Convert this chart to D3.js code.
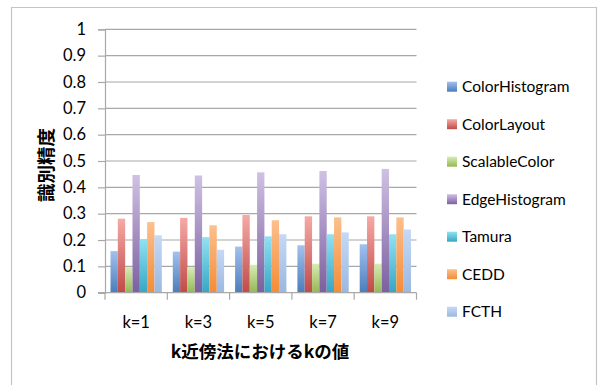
<!DOCTYPE html>
<html>
<head>
<meta charset="utf-8">
<script src="https://cdn.jsdelivr.net/npm/d3@7"></script>
<style>
  html, body { margin: 0; padding: 0; background: #fff; }
  svg { display: block; }
  text { font-family: Lato, "Open Sans", sans-serif; fill: #000; }
  .cjk { font-family: "Noto Sans CJK JP", sans-serif; font-weight: bold; }
</style>
</head>
<body>
<script>
// k values on the category axis
const categories = ["k=1", "k=3", "k=5", "k=7", "k=9"];
// descriptor names (legend order)
const seriesNames = ["ColorHistogram", "ColorLayout", "ScalableColor", "EdgeHistogram", "Tamura", "CEDD", "FCTH"];
// recognition accuracy per descriptor, one value per k
const colorHistogram = [0.158, 0.156, 0.175, 0.180, 0.184];
const colorLayout    = [0.281, 0.284, 0.295, 0.290, 0.290];
const scalableColor  = [0.097, 0.097, 0.106, 0.110, 0.110];
const edgeHistogram  = [0.447, 0.445, 0.457, 0.462, 0.470];
const tamura         = [0.204, 0.211, 0.214, 0.222, 0.222];
const cedd           = [0.268, 0.256, 0.275, 0.286, 0.286];
const fcth           = [0.218, 0.163, 0.222, 0.229, 0.240];
const yTicks = [0, 0.1, 0.2, 0.3, 0.4, 0.5, 0.6, 0.7, 0.8, 0.9, 1];
const yTitle = "識別精度";
const xTitle = "k近傍法におけるkの値";

const seriesValues = [colorHistogram, colorLayout, scalableColor, edgeHistogram, tamura, cedd, fcth];
// [light top, base bottom]
const seriesColors = [
  ["#a3c1ee", "#4a7dbb"],
  ["#f6aaa6", "#bf4b48"],
  ["#d6ecb4", "#95b754"],
  ["#cfc1e4", "#7c5f9f"],
  ["#92e1f2", "#36a6c4"],
  ["#fcc08e", "#f48c36"],
  ["#c6d9f6", "#9ab8e0"]
];

const W = 598, H = 385;
const svg = d3.select("body").append("svg").attr("width", W).attr("height", H);

// chart frame
svg.append("path")
  .attr("d", `M11.5,${H} V7.5 H596.5 V${H}`)
  .attr("fill", "none").attr("stroke", "#c4c4c4").attr("stroke-width", 1.2);

const plot = { left: 105, right: 416.5, top: 29.3, bottom: 292.7 };

const x = d3.scaleBand().domain(categories).range([plot.left, plot.right]).paddingInner(0).paddingOuter(0);
const xs = d3.scaleBand().domain(seriesNames).range([0, x.bandwidth()]).paddingInner(0).paddingOuter(0.75);
const y = d3.scaleLinear().domain([0, 1]).range([plot.bottom, plot.top]);

// gradients
const defs = svg.append("defs");
seriesColors.forEach((c, i) => {
  const g = defs.append("linearGradient").attr("id", "g" + i)
    .attr("x1", 0).attr("y1", 0).attr("x2", 0).attr("y2", 1);
  g.append("stop").attr("offset", "0%").attr("stop-color", c[0]);
  g.append("stop").attr("offset", "100%").attr("stop-color", c[1]);
});

// gridlines
svg.append("g").selectAll("line").data(yTicks.slice(1)).join("line")
  .attr("x1", plot.left).attr("x2", plot.right)
  .attr("y1", d => y(d)).attr("y2", d => y(d))
  .attr("stroke", "#a8a8a8").attr("stroke-width", 1.2);

// y axis
const yAxis = svg.append("g").attr("transform", `translate(${plot.left},0)`)
  .call(d3.axisLeft(y).tickValues(yTicks).tickFormat(d3.format("~g")).tickSize(7).tickPadding(12));
yAxis.select(".domain").attr("stroke", "#a8a8a8").attr("stroke-width", 1.2);
yAxis.selectAll(".tick line").attr("stroke", "#a8a8a8").attr("stroke-width", 1.2);
yAxis.selectAll(".tick text").style("font-size", "16.5px").style("font-family", "Lato, sans-serif").attr("fill", "#000");

// bars
const groups = svg.append("g").selectAll("g").data(categories).join("g")
  .attr("transform", d => `translate(${x(d)},0)`);
groups.selectAll("rect")
  .data((c, ci) => seriesNames.map((s, si) => ({ s, si, v: seriesValues[si][ci] })))
  .join("rect")
  .attr("x", d => xs(d.s))
  .attr("width", xs.bandwidth())
  .attr("y", d => y(d.v))
  .attr("height", d => y(0) - y(d.v))
  .attr("fill", d => `url(#g${d.si})`);

// x axis
const xAxisG = svg.append("g").attr("transform", `translate(0,${plot.bottom})`);
xAxisG.append("line").attr("x1", plot.left - 7).attr("x2", plot.right)
  .attr("stroke", "#a8a8a8").attr("stroke-width", 1.2);
const bounds = categories.map(c => x(c)).concat([x(categories[categories.length - 1]) + x.bandwidth()]);
xAxisG.selectAll("line.tk").data(bounds).join("line").attr("class", "tk")
  .attr("x1", d => d).attr("x2", d => d).attr("y1", 0).attr("y2", 7)
  .attr("stroke", "#a8a8a8").attr("stroke-width", 1.2);
xAxisG.selectAll("text").data(categories).join("text")
  .attr("x", d => x(d) + x.bandwidth() / 2).attr("y", 30)
  .attr("dy", "0.35em").attr("text-anchor", "middle")
  .style("font-size", "16.5px").text(d => d);

// axis titles
svg.append("text").attr("class", "cjk")
  .attr("transform", `translate(47,${(plot.top + plot.bottom) / 2 + 4}) rotate(-90)`)
  .attr("text-anchor", "middle").attr("dy", "0.35em")
  .style("font-size", "18.5px").text(yTitle);
svg.append("text").attr("class", "cjk")
  .attr("x", 260).attr("y", 352).attr("dy", "0.35em")
  .attr("text-anchor", "middle").style("font-size", "17.5px").text(xTitle);

// legend
const legend = svg.append("g").selectAll("g").data(seriesNames).join("g")
  .attr("transform", (d, i) => `translate(447,${86.7 + i * 37.5})`);
legend.append("rect").attr("x", 0).attr("y", -5).attr("width", 10).attr("height", 10)
  .attr("fill", (d, i) => `url(#g${i})`);
legend.append("text").attr("x", 15).attr("dy", "0.35em")
  .style("font-size", "15.5px").text(d => d);
</script>
</body>
</html>
